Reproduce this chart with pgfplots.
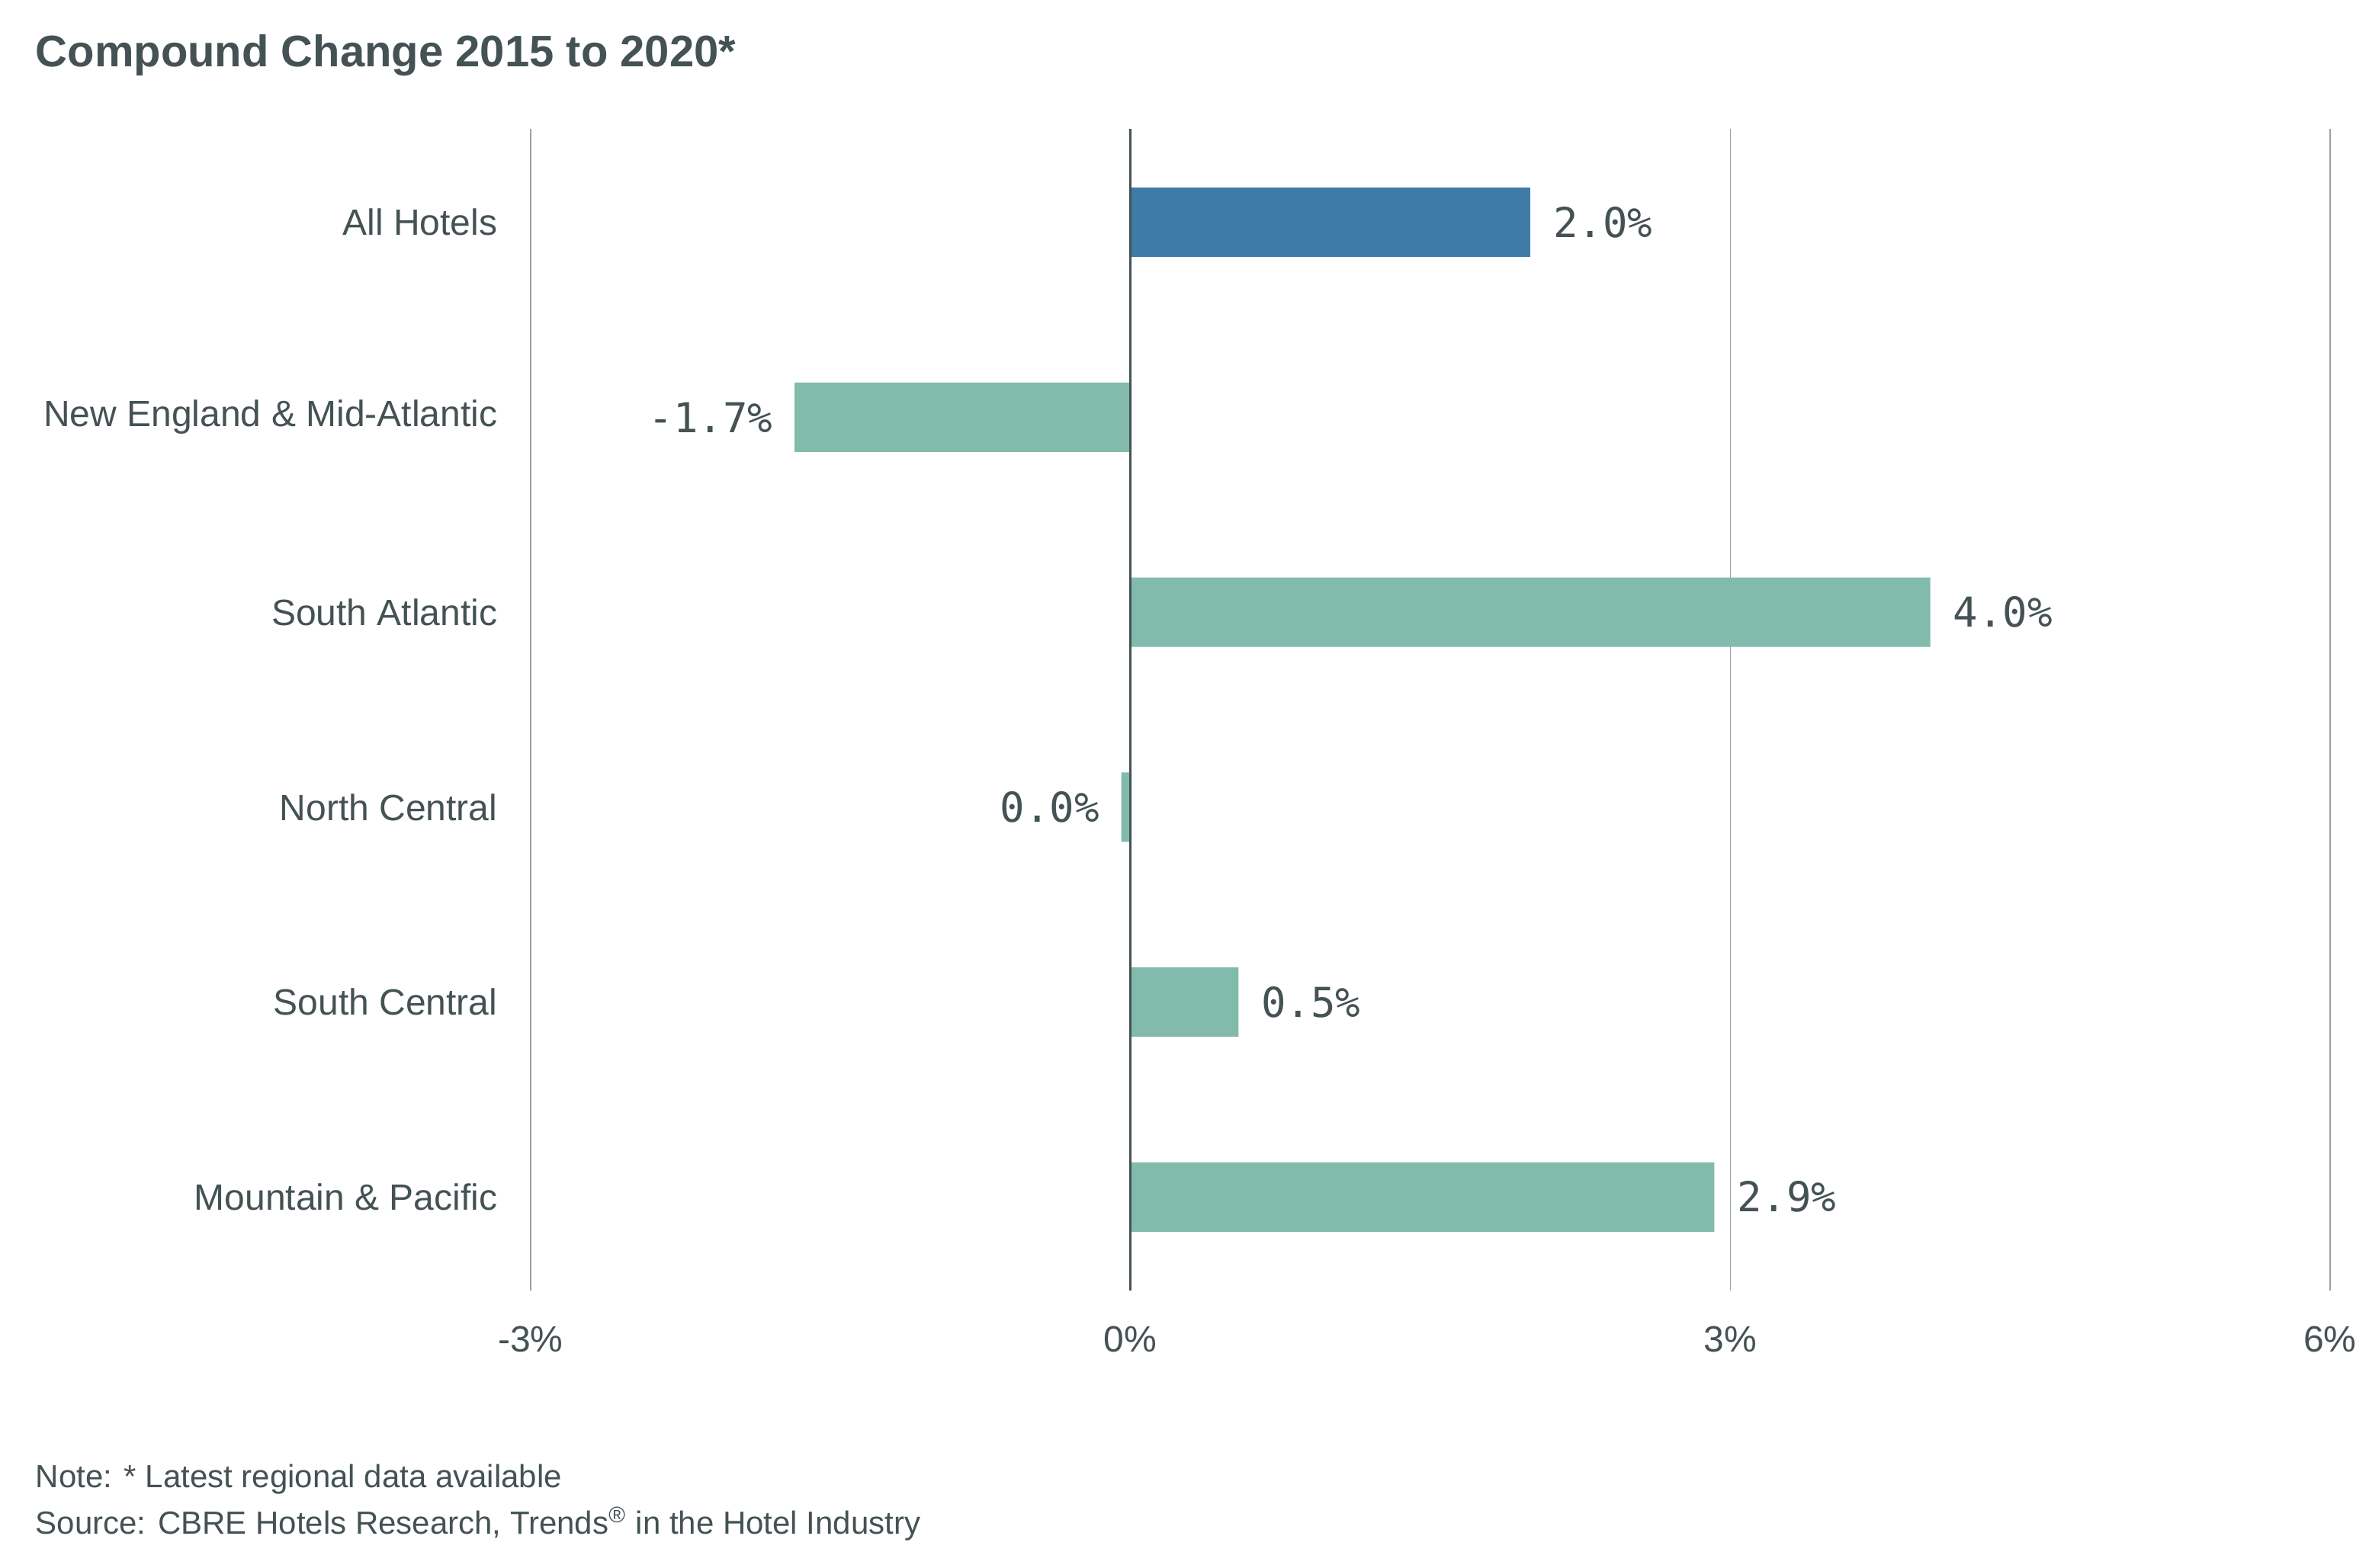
\documentclass[border=0pt]{standalone}
\usepackage{fontspec}
\setmainfont{Liberation Sans}
\newfontfamily\monofont{DejaVu Sans Mono}
\usepackage{pgfplots}
\usepackage{pgfplotstable}
\pgfplotsset{compat=1.18}

\definecolor{txt}{HTML}{445254}
\definecolor{allblue}{HTML}{3E7BA6}
\definecolor{teal}{HTML}{82BAAB}
\definecolor{gridc}{HTML}{9AA2A3}

% y = category position (0 at top), x = compound change in %
\pgfplotstableread[col sep=comma]{
y,x,lab
0,2.0,2.0\%
}\allhotels
\pgfplotstableread[col sep=comma]{
y,x,lab
2,4.0,4.0\%
4,0.54,0.5\%
5,2.92,2.9\%
}\regionspos
\pgfplotstableread[col sep=comma]{
y,x,lab
1,-1.68,-1.7\%
3,-0.046,0.0\%
}\regionsneg

\begin{document}
\begin{tikzpicture}
\path[use as bounding box] (0,0) rectangle (776.75pt,514.25pt);

\node[anchor=base west, inner sep=0pt, text=txt, font=\fontsize{14.5}{17}\selectfont\bfseries]
  at (11.5pt,492.25pt) {Compound Change 2015 to 2020*};

\begin{axis}[
  at={(174pt,91pt)}, anchor=south west,
  scale only axis, width=590pt, height=381pt,
  xbar, bar width=22.75pt, bar shift=0pt,
  xmin=-3, xmax=6, ymin=-0.48, ymax=5.48,
  y dir=reverse,
  xtick={-3,0,3,6},
  xticklabels={-3\%,0\%,3\%,6\%},
  ytick={0,...,5},
  yticklabels={All Hotels,New England \& Mid-Atlantic,South Atlantic,North Central,South Central,Mountain \& Pacific},
  major tick length=0pt,
  axis line style={draw=none},
  xmajorgrids, ymajorgrids=false,
  grid style={color=gridc, line width=0.4pt},
  x tick label style={font=\fontsize{12}{14}\selectfont, text=txt, anchor=center, inner sep=0pt, yshift=-16.1pt},
  y tick label style={font=\fontsize{12}{14}\selectfont, text=txt, anchor=east, inner sep=0pt, xshift=-10.75pt},
  nodes near coords={\pgfplotspointmeta},
  every node near coord/.append style={font=\monofont\fontsize{13.5}{16}\selectfont, text=txt, inner sep=0pt},
  point meta=explicit symbolic,
  clip=false,
]
\addplot[fill=allblue, draw=none,
  every node near coord/.append style={anchor=west, xshift=7.3pt}]
  table[x=x, y=y, meta=lab] {\allhotels};
\addplot[fill=teal, draw=none,
  every node near coord/.append style={anchor=west, xshift=7.3pt}]
  table[x=x, y=y, meta=lab] {\regionspos};
\addplot[fill=teal, draw=none,
  every node near coord/.append style={anchor=east, xshift=-7pt}]
  table[x=x, y=y, meta=lab] {\regionsneg};
\draw[txt, line width=0.65pt] (axis cs:0,-0.48) -- (axis cs:0,5.48);
\end{axis}

\node[anchor=base west, inner sep=0pt, text=txt, font=\fontsize{10.5}{12}\selectfont]
  at (11.5pt,26.25pt) {Note: * Latest regional data available};
\node[anchor=base west, inner sep=0pt, text=txt, font=\fontsize{10.5}{12}\selectfont]
  at (11.5pt,11pt) {Source: CBRE Hotels Research, Trends\textsuperscript{®} in the Hotel Industry};
\end{tikzpicture}
\end{document}
